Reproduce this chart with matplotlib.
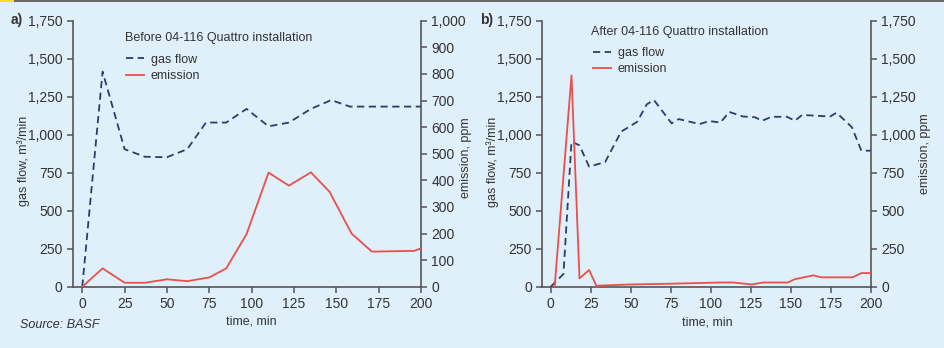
import matplotlib
matplotlib.use("Agg")
import matplotlib.pyplot as plt
from matplotlib.patches import Rectangle
from matplotlib.lines import Line2D

# =========================================================
# Data
# =========================================================
# a) before installation
t_gas_a = [0, 12, 25, 37, 50, 62, 73, 85, 97, 110, 122, 135, 147, 158, 200]
gas_a = [0, 1415, 905, 855, 852, 905, 1080, 1080, 1170, 1055, 1080, 1170, 1228, 1185, 1185]
t_em_a = [0, 12, 25, 37, 50, 62, 75, 85, 97, 110, 122, 135, 146, 159, 171, 196, 200]
em_a = [0, 69, 15, 15, 28, 21, 35, 69, 198, 429, 380, 430, 357, 200, 132, 135, 144]

# b) after installation
t_gas_b = [0, 8, 13, 18, 24, 34, 44, 54, 60, 64.5, 75.5, 80, 93, 99, 106, 111.5,
           120, 127.5, 132, 138, 147.5, 152.5, 157, 174.5, 178.5, 188, 194, 200]
gas_b = [0, 84, 955, 930, 790, 820, 1020, 1085, 1200, 1228, 1075, 1103, 1070, 1090,
         1080, 1150, 1120, 1115, 1092, 1118, 1118, 1092, 1130, 1120, 1145, 1050, 895, 895]
t_em_b = [2.5, 13, 18, 24, 28.5, 50, 75, 106, 114, 125.5, 132.5, 148, 152.5, 164,
          169, 188.5, 194, 200]
em_b = [0, 1390, 55, 110, 7, 15, 20, 28, 28, 15, 28, 28, 50, 75, 62, 62, 90, 90]

x_ticks = [0, 25, 50, 75, 100, 125, 150, 175, 200]
gas_ticks = [0, 250, 500, 750, 1000, 1250, 1500, 1750]
em_ticks_a = [0, 100, 200, 300, 400, 500, 600, 700, 800, 900, 1000]
em_ticks_b = [0, 250, 500, 750, 1000, 1250, 1500, 1750]

# =========================================================
# Style
# =========================================================
BG = "#dff0fb"
NAVY = "#2a3e6c"
RED = "#e8504c"
SPINE = "#555555"
TXT = "#333333"
W, H = 945, 348
DASH = (4, 2.5)

plt.rcParams["font.family"] = ["Liberation Sans", "DejaVu Sans"]
plt.rcParams["font.size"] = 9


def fmt(v):
    return f"{v:,}"


def ftext(fig, x, y, s, **kw):
    # texto posicionado em pixels da figura (origem no canto superior esquerdo)
    kw.setdefault("color", TXT)
    kw.setdefault("ha", "center")
    kw.setdefault("va", "center")
    return fig.text(x / W, 1 - y / H, s, **kw)


def painel(fig, rect, xmin, t_gas, gas, t_em, em, em_ticks, em_max, cfg):
    ax = fig.add_axes(rect)
    ax.set_facecolor("none")
    ax2 = ax.twinx()
    ax2.set_facecolor("none")

    ax.plot(t_gas, gas, color=NAVY, lw=1.3, dashes=DASH, zorder=3)
    ax2.plot(t_em, em, color=RED, lw=1.3, zorder=3)

    ax.set_xlim(xmin, 200)
    ax.set_ylim(0, 1750)
    ax2.set_ylim(0, em_max)

    ax.set_xticks(x_ticks)
    ax.set_yticks(gas_ticks)
    ax.set_yticklabels([fmt(v) for v in gas_ticks])
    ax2.set_yticks(em_ticks)
    ax2.set_yticklabels([fmt(v) for v in em_ticks])

    for a in (ax, ax2):
        a.spines["top"].set_visible(False)
        for s in a.spines.values():
            s.set_color(SPINE)
            s.set_linewidth(1.2)
        a.tick_params(colors=SPINE, labelcolor=TXT, length=4, width=1.1,
                      labelsize=10, pad=3.5)
    ax.spines["right"].set_visible(False)
    ax2.spines["left"].set_visible(False)
    ax2.spines["bottom"].set_visible(False)

    # rótulos dos eixos
    ftext(fig, *cfg["ylab_l"], "gas flow, m³/min", rotation=90, fontsize=9)
    ftext(fig, *cfg["ylab_r"], "emission, ppm", rotation=90, fontsize=9)
    ftext(fig, *cfg["xlab"], "time, min", fontsize=9)

    # legenda: título separado + entradas
    ftext(fig, *cfg["titulo_xy"], cfg["titulo"], ha="left", fontsize=9)
    handles = [Line2D([], [], color=NAVY, lw=1.3, dashes=DASH),
               Line2D([], [], color=RED, lw=1.3)]
    lx, ly = cfg["leg_xy"]
    leg = ax.legend(handles, ["gas flow", "emission"], loc="upper left",
                    bbox_to_anchor=(lx / W, 1 - ly / H),
                    bbox_transform=fig.transFigure,
                    frameon=False, fontsize=9,
                    handlelength=1.45, handletextpad=0.55, labelspacing=0.35,
                    borderaxespad=0, borderpad=0)
    for txt in leg.get_texts():
        txt.set_color(TXT)

    ftext(fig, *cfg["letra_xy"], cfg["letra"], ha="left", fontsize=10,
          fontweight="bold")
    return ax, ax2


fig = plt.figure(figsize=(W / 100, H / 100), dpi=100)
fig.patch.set_facecolor(BG)

# faixa superior
fig.add_artist(Rectangle((0, 0.994), 1, 0.006, transform=fig.transFigure,
                         color="#6b6b6b", lw=0))
fig.add_artist(Rectangle((0, 0.994), 0.015, 0.006, transform=fig.transFigure,
                         color="#f3e21b", lw=0))

cfg_a = dict(ylab_l=(24, 161), ylab_r=(466.5, 158), xlab=(251, 322),
             titulo="Before 04-116 Quattro installation", titulo_xy=(125, 38.5),
             leg_xy=(126, 53.5), letra="a)", letra_xy=(11, 20))
cfg_b = dict(ylab_l=(492.5, 162), ylab_r=(925, 154), xlab=(707, 322.5),
             titulo="After 04-116 Quattro installation", titulo_xy=(591.5, 32),
             leg_xy=(593, 47), letra="b)", letra_xy=(480, 20))

painel(fig, [0.0772, 0.176, 0.3683, 0.7645], -5.5, t_gas_a, gas_a, t_em_a, em_a,
       em_ticks_a, 1000, cfg_a)
painel(fig, [0.5739, 0.176, 0.3478, 0.7645], -5.2, t_gas_b, gas_b, t_em_b, em_b,
       em_ticks_b, 1750, cfg_b)

ftext(fig, 20, 325, "Source: BASF", ha="left", fontsize=9, style="italic")

fig.savefig("out.png", dpi=100, facecolor=BG)
